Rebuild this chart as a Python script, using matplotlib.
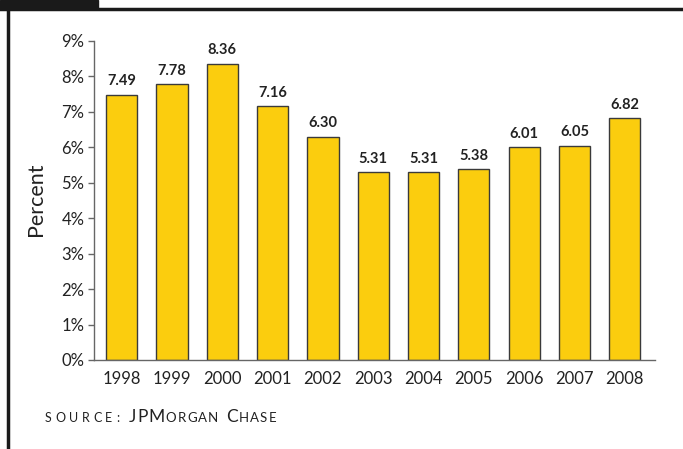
import matplotlib
matplotlib.use("Agg")
import matplotlib.pyplot as plt
from matplotlib.patches import Rectangle
from matplotlib.lines import Line2D

years = ["1998", "1999", "2000", "2001", "2002", "2003", "2004", "2005", "2006", "2007", "2008"]
rates = [7.49, 7.78, 8.36, 7.16, 6.30, 5.31, 5.31, 5.38, 6.01, 6.05, 6.82]
yticks = [0, 1, 2, 3, 4, 5, 6, 7, 8, 9]

plt.rcParams['font.family'] = ['Lato', 'DejaVu Sans']

fig = plt.figure(figsize=(6.83, 4.49), dpi=100)
ax = fig.add_axes([94 / 683, 1 - 360 / 449, (655 - 94) / 683, (360 - 41) / 449])

x = range(len(years))
ax.bar(x, rates, width=0.62, color='#FBCD0E', edgecolor='#3a3a3a', linewidth=1.0)

for xi, v in zip(x, rates):
    ax.annotate(f"{v:.2f}", (xi, v), xytext=(0, 4.5), textcoords='offset points',
                ha='center', va='bottom', fontsize=10.5, fontweight='bold', color='#222')

ax.set_xlim(-0.55, 10.6)
ax.set_ylim(0, 9)
ax.set_yticks(yticks)
ax.set_yticklabels([f"{t}%" for t in yticks])
ax.set_xticks(list(x))
ax.set_xticklabels(years)

for s in ['top', 'right']:
    ax.spines[s].set_visible(False)
for s in ['left', 'bottom']:
    ax.spines[s].set_color('#666')
    ax.spines[s].set_linewidth(1.0)

ax.tick_params(axis='y', length=4, width=1, color='#666', labelsize=12, labelcolor='#222', pad=3)
ax.tick_params(axis='x', length=0, labelsize=12, labelcolor='#222', pad=8)
ax.set_ylabel("Percent", fontsize=15.5, color='#222')
ax.yaxis.set_label_coords(-48 / 561, 0.505)

# frame around the panel
fig.patches.append(Rectangle((0, 1 - 8 / 449), 98 / 683, 8 / 449, transform=fig.transFigure,
                             color='#1a1a1a', zorder=5))
fig.lines.append(Line2D([0, 1], [1 - 8.5 / 449, 1 - 8.5 / 449], transform=fig.transFigure,
                        color='#1a1a1a', linewidth=2.5))
fig.lines.append(Line2D([7.5 / 683, 7.5 / 683], [0, 1 - 8.5 / 449], transform=fig.transFigure,
                        color='#1a1a1a', linewidth=2.5))

# source line in small caps, placed letter by letter
fig.canvas.draw()
renderer = fig.canvas.get_renderer()


def put(text, xpos, size, track):
    for ch in text:
        if ch == " ":
            xpos += size * 0.35
            continue
        t = fig.text(xpos / 683, 1 - 422 / 449, ch, fontsize=size, color='#222',
                     ha='left', va='baseline')
        xpos = t.get_window_extent(renderer=renderer).x1 + track
    return xpos


put("SOURCE:", 45, 9, 3.6)
xp = put("JPM", 129, 12.5, 0.8)
xp = put("ORGAN", xp, 9.5, 1.3)
xp = put("C", xp + 6, 12.5, 0.8)
put("HASE", xp, 9.5, 1.3)

fig.savefig("out.png", dpi=100)
